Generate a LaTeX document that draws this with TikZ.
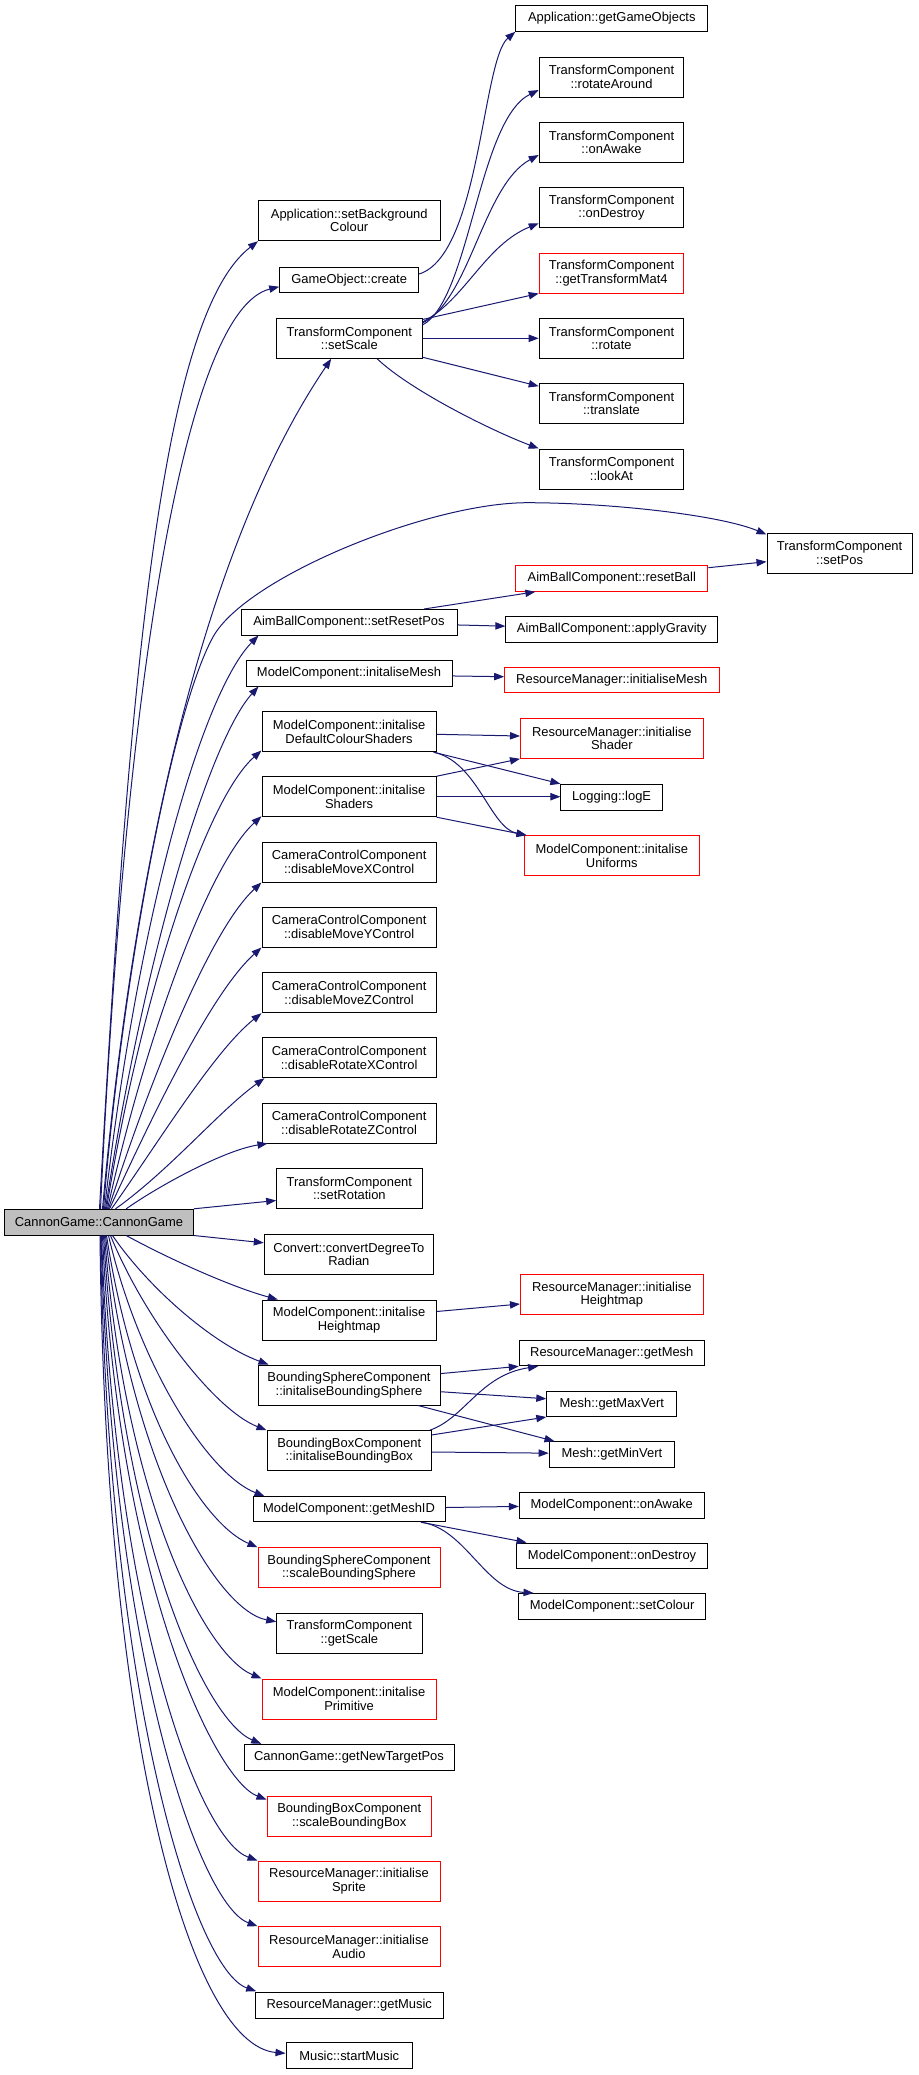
\documentclass[tikz,border=0pt]{standalone}
\usepackage{fontspec}
\setmainfont{Liberation Sans}
\usetikzlibrary{arrows.meta,calc}
\definecolor{edgeblue}{HTML}{191970}
\definecolor{nodegray}{HTML}{BFBFBF}
\tikzset{
  nb/.style={draw=black, line width=0.75pt, fill=white, inner sep=0pt, align=center,
             font=\fontsize{9.7}{10}\selectfont, text=black},
  nr/.style={nb, draw=red},
  ng/.style={nb, fill=nodegray},
  e/.style={draw=edgeblue, line width=0.75pt, -{Triangle[length=7.5pt,width=5.5pt]}},
}
\newcommand{\mkbox}[7][nb]{\node[#1, minimum width={(#5-#3)*0.75pt}, minimum height={(#6-#4)*0.75pt}] (#2) at ({(#3+#5)/2},{(#4+#6)/2}) {#7};}
\begin{document}
\begin{tikzpicture}[x=0.75pt, y=-0.75pt]
\useasboundingbox (0,0) rectangle (919,2075);
% column 1
\mkbox[ng]{cg}{4.7}{1209.3}{193.3}{1235}{CannonGame::CannonGame}
% column 2
\mkbox{bgc}{258.5}{200.7}{440}{240.7}{Application::setBackground\\Colour}
\mkbox{goc}{279.7}{267.3}{418.6}{292.3}{GameObject::create}
\mkbox{ss}{276.7}{318.3}{422}{358.3}{TransformComponent\\::setScale}
\mkbox{srp}{241}{609.5}{457}{635}{AimBallComponent::setResetPos}
\mkbox{imesh}{246}{660.3}{452}{686}{ModelComponent::initaliseMesh}
\mkbox{idcs}{262}{711.7}{436.2}{751.7}{ModelComponent::initalise\\DefaultColourShaders}
\mkbox{ish}{262}{776.7}{436.2}{816.7}{ModelComponent::initalise\\Shaders}
\mkbox{dmx}{262}{842}{436.2}{882}{CameraControlComponent\\::disableMoveXControl}
\mkbox{dmy}{262}{907}{436.2}{947}{CameraControlComponent\\::disableMoveYControl}
\mkbox{dmz}{262}{972.7}{436.2}{1012.7}{CameraControlComponent\\::disableMoveZControl}
\mkbox{drx}{262}{1037.7}{436.2}{1077.7}{CameraControlComponent\\::disableRotateXControl}
\mkbox{drz}{262}{1103}{436.2}{1143}{CameraControlComponent\\::disableRotateZControl}
\mkbox{srot}{276.7}{1168.5}{422}{1208.5}{TransformComponent\\::setRotation}
\mkbox{cdr}{264.3}{1234.5}{433.5}{1274.5}{Convert::convertDegreeTo\\Radian}
\mkbox{ihm}{262}{1300}{436.2}{1340}{ModelComponent::initalise\\Heightmap}
\mkbox{ibs}{258}{1365}{440}{1405}{BoundingSphereComponent\\::initaliseBoundingSphere}
\mkbox{ibb}{267}{1430.7}{431.5}{1470.7}{BoundingBoxComponent\\::initaliseBoundingBox}
\mkbox{gmid}{253}{1496.7}{445}{1521.7}{ModelComponent::getMeshID}
\mkbox[nr]{sbs}{258}{1547.7}{440}{1587.7}{BoundingSphereComponent\\::scaleBoundingSphere}
\mkbox{gsc}{276.7}{1613.3}{422}{1653.3}{TransformComponent\\::getScale}
\mkbox[nr]{iprim}{262}{1679}{436.2}{1719}{ModelComponent::initalise\\Primitive}
\mkbox{gntp}{244}{1744.3}{454}{1770}{CannonGame::getNewTargetPos}
\mkbox[nr]{sbb}{267}{1796}{431.5}{1836}{BoundingBoxComponent\\::scaleBoundingBox}
\mkbox[nr]{isp}{258}{1861}{440}{1901}{ResourceManager::initialise\\Sprite}
\mkbox[nr]{iau}{258}{1926.7}{440}{1966.7}{ResourceManager::initialise\\Audio}
\mkbox{gmus}{255}{1992.7}{443.5}{2018}{ResourceManager::getMusic}
\mkbox{smus}{286}{2042.7}{412.5}{2068.3}{Music::startMusic}
% column 3
\mkbox{ggo}{515.8}{5.7}{707.8}{31.3}{Application::getGameObjects}
\mkbox{rar}{539.2}{57}{683.8}{97}{TransformComponent\\::rotateAround}
\mkbox{oaw}{539.2}{122.3}{683.8}{162.3}{TransformComponent\\::onAwake}
\mkbox{ode}{539.2}{187.7}{683.8}{227.7}{TransformComponent\\::onDestroy}
\mkbox[nr]{gtm}{539.2}{253}{683.8}{293}{TransformComponent\\::getTransformMat4}
\mkbox{rot}{539.2}{318.3}{683.8}{358.3}{TransformComponent\\::rotate}
\mkbox{tra}{539.2}{383.7}{683.8}{423.7}{TransformComponent\\::translate}
\mkbox{lka}{539.2}{449}{683.8}{489}{TransformComponent\\::lookAt}
\mkbox[nr]{rsb}{515.8}{565.7}{707.8}{591.3}{AimBallComponent::resetBall}
\mkbox{agr}{505.9}{616.3}{717.8}{642}{AimBallComponent::applyGravity}
\mkbox[nr]{rmim}{504.7}{667.3}{719}{692.7}{ResourceManager::initialiseMesh}
\mkbox[nr]{rmis}{520.5}{718.3}{703.2}{758.3}{ResourceManager::initialise\\Shader}
\mkbox{loge}{560.9}{784.3}{662.2}{810}{Logging::logE}
\mkbox[nr]{iun}{524.6}{835.7}{699}{875.7}{ModelComponent::initalise\\Uniforms}
\mkbox[nr]{rmih}{520.5}{1274.8}{703.2}{1314.8}{ResourceManager::initialise\\Heightmap}
\mkbox{gmesh}{519.3}{1340.3}{704.3}{1365.8}{ResourceManager::getMesh}
\mkbox{gmax}{546.8}{1391}{676.8}{1416.5}{Mesh::getMaxVert}
\mkbox{gmin}{549.2}{1441.7}{674.5}{1467.2}{Mesh::getMinVert}
\mkbox{mcoa}{519.3}{1492.7}{704.3}{1518.3}{ModelComponent::onAwake}
\mkbox{mcod}{516.4}{1543}{707.8}{1568.8}{ModelComponent::onDestroy}
\mkbox{mcsc}{518.7}{1593.5}{705.5}{1619.3}{ModelComponent::setColour}
% column 4
\mkbox{spos}{767}{533}{912.2}{573}{TransformComponent\\::setPos}
% ---- edges from CannonGame (upwards)
\draw[e] ($(cg.north west)+(95.3,0)$) .. controls (130,659) and (162.7,315) .. (bgc.south west);
\draw[e] ($(cg.north west)+(96.3,0)$) .. controls (125,680) and (185,310) .. ($(goc.west)+(0,6.9)$);
\draw[e] ($(cg.north west)+(98.3,0)$) .. controls (130,900) and (195,560) .. ($(ss.south west)+(55,0)$);
\draw[e] ($(cg.north west)+(99.3,0)$) .. controls (120,1000) and (169,717) .. (213,637)
   .. controls (246,577) and (430,502.7) .. (527,502.7)
   .. controls (610,502.7) and (720,515) .. ($(spos.north west)+(0,2)$);
\draw[e] ($(cg.north west)+(100.3,0)$) .. controls (140,900) and (205,690) .. ($(srp.south west)+(18,0)$);
\draw[e] ($(cg.north west)+(101.3,0)$) .. controls (145,950) and (210,740) .. ($(imesh.south west)+(13,0)$);
\draw[e] ($(cg.north west)+(102.3,0)$) .. controls (140,1000) and (205,800) .. ($(idcs.south west)+(0,-1.7)$);
\draw[e] ($(cg.north west)+(103.3,0)$) .. controls (145,1040) and (208,865) .. ($(ish.south west)+(0,-1)$);
\draw[e] ($(cg.north west)+(104.3,0)$) .. controls (150,1080) and (210,930) .. (dmx.south west);
\draw[e] ($(cg.north west)+(105.3,0)$) .. controls (155,1110) and (212,992) .. (dmy.south west);
\draw[e] ($(cg.north west)+(107.3,0)$) .. controls (160,1140) and (215,1050) .. (dmz.south west);
\draw[e] ($(cg.north west)+(111.3,0)$) .. controls (170,1170) and (220,1110) .. ($(drx.south west)+(3,0)$);
\draw[e] ($(cg.north west)+(122,0)$) .. controls (160,1185) and (225,1150) .. ($(drz.south west)+(6,0)$);
\draw[e] (cg.north east) -- ($(srot.south west)+(0,-8.5)$);
\draw[e] (cg.south east) -- ($(cdr.north west)+(0,8.8)$);
% ---- edges from CannonGame (downwards)
\draw[e] ($(cg.south west)+(122,0)$) .. controls (175,1262) and (235,1288) .. ($(ihm.north west)+(16.3,0)$);
\draw[e] ($(cg.south west)+(108.3,0)$) .. controls (150,1290) and (215,1345) .. ($(ibs.north west)+(11,0)$);
\draw[e] ($(cg.south west)+(106.3,0)$) .. controls (145,1320) and (215,1410) .. (ibb.north west);
\draw[e] ($(cg.south west)+(104.3,0)$) .. controls (140,1370) and (210,1475) .. ($(gmid.north west)+(12,0)$);
\draw[e] ($(cg.south west)+(102.3,0)$) .. controls (135,1420) and (205,1525) .. (sbs.north west);
\draw[e] ($(cg.south west)+(101.3,0)$) .. controls (130,1460) and (215,1610) .. ($(gsc.west)+(0,-11.6)$);
\draw[e] ($(cg.south west)+(100.3,0)$) .. controls (125,1500) and (205,1655) .. (iprim.north west);
\draw[e] ($(cg.south west)+(99.3,0)$) .. controls (122,1540) and (205,1720) .. ($(gntp.north west)+(17.7,0)$);
\draw[e] ($(cg.south west)+(98.3,0)$) .. controls (118,1580) and (215,1780) .. ($(sbb.north west)+(0,4)$);
\draw[e] ($(cg.south west)+(97.3,0)$) .. controls (115,1620) and (200,1840) .. (isp.north west);
\draw[e] ($(cg.south west)+(96.8,0)$) .. controls (112,1660) and (200,1905) .. (iau.north west);
\draw[e] ($(cg.south west)+(96.3,0)$) .. controls (108,1700) and (195,1970) .. ($(gmus.north west)+(1.7,-1)$);
\draw[e] ($(cg.south west)+(95.8,0)$) .. controls (105,1740) and (190,2045) .. ($(smus.west)+(0,-2.2)$);
% ---- secondary edges
\draw[e] ($(goc.east)+(0,-5.8)$) .. controls (480,255) and (482,60) .. (ggo.south west);
\draw[e] ($(ss.east)+(0,-13.3)$) .. controls (470,300) and (478,120) .. ($(rar.west)+(0,13)$);
\draw[e] ($(ss.east)+(0,-15.3)$) .. controls (470,300) and (483,185) .. ($(oaw.west)+(0,12.7)$);
\draw[e] ($(ss.east)+(0,-16.3)$) .. controls (465,300) and (485,245) .. ($(ode.west)+(0,15.6)$);
\draw[e] ($(ss.north east)+(0,1.7)$) -- (gtm.south west);
\draw[e] (ss.east) -- (rot.west);
\draw[e] ($(ss.south east)+(0,-1.6)$) -- ($(tra.north west)+(0,3)$);
\draw[e] ($(ss.south west)+(101,0)$) .. controls (410,390) and (490,430) .. (lka.north west);
\draw[e] ($(srp.north west)+(183.5,0)$) -- ($(rsb.south west)+(20,0)$);
\draw[e] ($(srp.east)+(0,2.7)$) -- ($(agr.west)+(0,-3)$);
\draw[e] ($(rsb.east)+(0,-10.8)$) -- ($(spos.west)+(0,8.7)$);
\draw[e] ($(imesh.east)+(0,2.8)$) -- ($(rmim.west)+(0,-3.3)$);
\draw[e] ($(idcs.east)+(0,2.6)$) -- ($(rmis.west)+(0,-2.3)$);
\draw[e] ($(idcs.south east)+(-3,0)$) -- (loge.north west);
\draw[e] ($(idcs.south east)+(-3,0)$) .. controls (478,762) and (490,828) .. ($(iun.north west)+(2.4,0)$);
\draw[e] (ish.north east) -- (rmis.south west);
\draw[e] (ish.east) -- (ish.east -| loge.west);
\draw[e] (ish.south east) -- ($(iun.north west)+(2.4,0)$);
\draw[e] ($(ihm.east)+(0,-8.5)$) -- ($(rmih.west)+(0,9.2)$);
\draw[e] ($(ibs.east)+(0,-11.4)$) -- (gmesh.south west);
\draw[e] ($(ibs.east)+(0,6.7)$) -- ($(gmax.west)+(0,-5)$);
\draw[e] ($(ibs.south west)+(160.6,0)$) -- ($(gmin.north west)+(5.8,0)$);
\draw[e] ($(ibb.north west)+(163.3,0)$) .. controls (465,1418) and (480,1375) .. ($(gmesh.south west)+(19.3,0)$);
\draw[e] ($(ibb.north east)+(0,4.7)$) -- (gmax.south west);
\draw[e] ($(ibb.east)+(0,1.3)$) -- ($(gmin.west)+(0,-1.3)$);
\draw[e] ($(gmid.east)+(0,-1.7)$) -- ($(mcoa.west)+(0,0.9)$);
\draw[e] ($(gmid.south west)+(168.5,0)$) -- ($(mcod.north west)+(10.6,0)$);
\draw[e] ($(gmid.south west)+(168.5,0)$) .. controls (465,1528) and (485,1590) .. ($(mcsc.north west)+(15.3,0)$);
\end{tikzpicture}
\end{document}
